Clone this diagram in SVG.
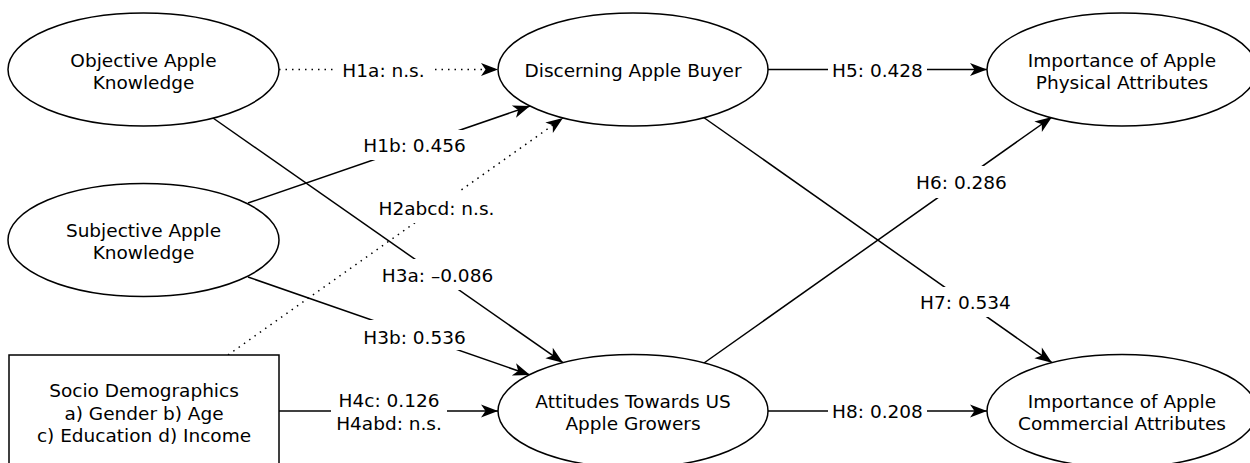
<svg xmlns="http://www.w3.org/2000/svg" width="1250" height="463" viewBox="0 0 1250 463">
<defs>
<style>
.n{fill:#fff;stroke:#000;stroke-width:1.5}
.t{font-family:"DejaVu Sans","Liberation Sans",sans-serif;font-size:18.5px;fill:#000;text-anchor:middle}
.c{fill:none;stroke:#000;stroke-width:1.5;marker-end:url(#arr)}
.d{stroke-dasharray:1.5 5}
.lb{fill:#fff;stroke:none}
</style>
<marker id="arr" markerUnits="userSpaceOnUse" markerWidth="20" markerHeight="16" viewBox="-18 -8 20 16" refX="0" refY="0" orient="auto">
<path d="M0,0 L-17,-6.5 L-12.5,0 L-17,6.5 Z" fill="#000" stroke="none"/>
</marker>
</defs>
<rect width="1250" height="463" fill="#fff"/>
<g id="connectors">
<path class="c d" d="M279,69.5 L498,69.5"/>
<path class="c" d="M248,203 L530,106"/>
<path class="c d" d="M228,355 L563,118"/>
<path class="c" d="M213,118 L563,362.7"/>
<path class="c" d="M248,277 L530,375"/>
<path class="c" d="M279,411 L498,411"/>
<path class="c" d="M768,69.5 L987,69.5"/>
<path class="c" d="M704,363 L1052,117"/>
<path class="c" d="M703,117 L1052,362.7"/>
<path class="c" d="M768,411 L987,411"/>
<g id="labels">
<rect class="lb" x="333" y="55" width="101" height="29"/><text class="t" x="383.5" y="76.5">H1a: n.s.</text>
<rect class="lb" x="828" y="55" width="99" height="29"/><text class="t" x="877.5" y="76.5">H5: 0.428</text>
<rect class="lb" x="828" y="397" width="99" height="29"/><text class="t" x="877.5" y="418">H8: 0.208</text>
<rect class="lb" x="360" y="130" width="109" height="30"/><text class="t" x="414.5" y="152">H1b: 0.456</text>
<rect class="lb" x="376" y="192" width="121" height="31"/><text class="t" x="436.5" y="215">H2abcd: n.s.</text>
<rect class="lb" x="378" y="259" width="119" height="31"/><text class="t" x="437.5" y="282">H3a: –0.086</text>
<rect class="lb" x="360" y="320" width="109" height="30"/><text class="t" x="414.5" y="344">H3b: 0.536</text>
<rect class="lb" x="913" y="166" width="97" height="32"/><text class="t" x="961.5" y="189">H6: 0.286</text>
<rect class="lb" x="917" y="287" width="97" height="30"/><text class="t" x="965.5" y="309">H7: 0.534</text>
<rect class="lb" x="331" y="388" width="116" height="47"/><text class="t" x="389" y="407">H4c: 0.126</text><text class="t" x="389" y="430">H4abd: n.s.</text>
</g>
</g>
<g id="objective">
<ellipse class="n" cx="143.5" cy="69.5" rx="135.5" ry="56.5"/>
<text class="t" x="143.5" y="66.5">Objective Apple</text>
<text class="t" x="143.5" y="88.5">Knowledge</text>
</g>
<g id="subjective">
<ellipse class="n" cx="143.5" cy="240" rx="135.5" ry="56.5"/>
<text class="t" x="143.5" y="237">Subjective Apple</text>
<text class="t" x="143.5" y="259">Knowledge</text>
</g>
<g id="socio">
<rect class="n" x="9" y="355" width="270" height="118"/>
<text class="t" x="144" y="397">Socio Demographics</text>
<text class="t" x="144" y="419.5">a) Gender b) Age</text>
<text class="t" x="144" y="442">c) Education d) Income</text>
</g>
<g id="discerning">
<ellipse class="n" cx="633" cy="69.5" rx="135" ry="56.5"/>
<text class="t" x="633" y="76.5">Discerning Apple Buyer</text>
</g>
<g id="attitudes">
<ellipse class="n" cx="633" cy="411" rx="135" ry="56.5"/>
<text class="t" x="633" y="408">Attitudes Towards US</text>
<text class="t" x="633" y="430">Apple Growers</text>
</g>
<g id="physical">
<ellipse class="n" cx="1122" cy="69.5" rx="135" ry="56.5"/>
<text class="t" x="1122" y="66.5">Importance of Apple</text>
<text class="t" x="1122" y="88.5">Physical Attributes</text>
</g>
<g id="commercial">
<ellipse class="n" cx="1122" cy="411" rx="135" ry="56.5"/>
<text class="t" x="1122" y="408">Importance of Apple</text>
<text class="t" x="1122" y="430">Commercial Attributes</text>
</g>
</svg>
